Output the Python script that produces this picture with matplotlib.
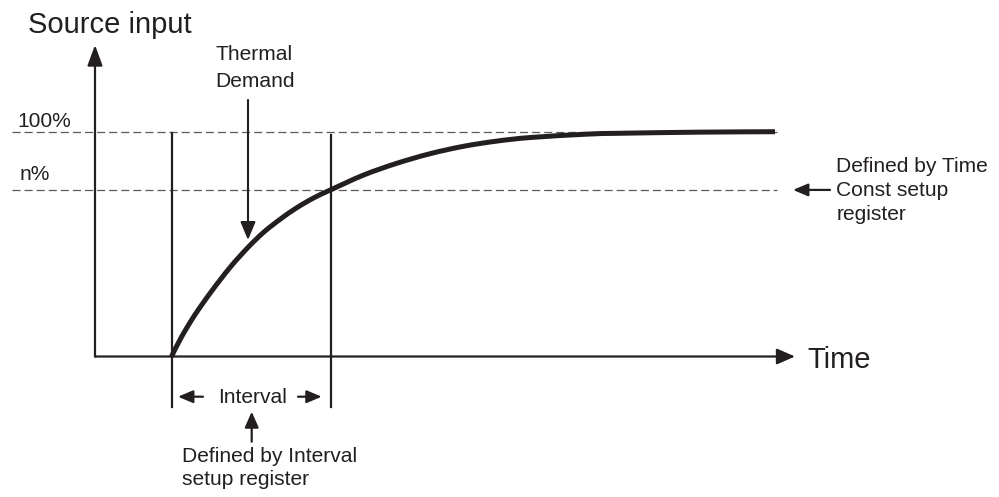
import matplotlib
matplotlib.use("Agg")
import matplotlib.pyplot as plt
from matplotlib.path import Path
from matplotlib.patches import PathPatch

# ---------------- data ----------------
# time since start of the interval (arbitrary units) and source input level (%)
curve_time = [0, 10, 23.5, 40, 58.5, 76, 92, 108.5, 125, 142, 159,
              192, 225, 258.5, 292, 325, 358.5, 415, 448.5, 528.5, 603.5]
curve_level = [0, 8.7, 18.6, 29.0, 39.6, 48.3, 55.2, 61.0, 66.1, 70.5, 74.1,
               80.7, 85.9, 90.2, 93.5, 95.8, 97.4, 98.9, 99.3, 99.8, 100.0]
full_level = 100.0      # "100%"
n_level = 74.1          # "n%"
interval_start = 0.0
interval_end = 159.0
level_labels = ["100%", "n%"]

# ---------------- layout helpers (figure pixels -> data) ----------------
X0 = 171.5      # pixel x of interval start
Y0 = 356.5      # pixel y of 0 level
SC = 2.248      # pixels per level %


def px(x):
    return x - X0


def lv(y):
    return (Y0 - y) / SC


INK = "#231f20"
GRAY = "#5a5a5a"
FONT = "Liberation Sans"

fig = plt.figure(figsize=(9.99, 4.97), dpi=100)
ax = fig.add_axes([0, 0, 1, 1])
ax.set_xlim(-X0, 999 - X0)
ax.set_ylim(lv(497), lv(0))
ax.axis("off")


def arrow(x0, y0, x1, y1, hl, hw, lw=1.6):
    ax.annotate("", xy=(x1, y1), xytext=(x0, y0),
                arrowprops=dict(arrowstyle=f"-|>,head_length={hl},head_width={hw}",
                                mutation_scale=1, color=INK, lw=lw,
                                shrinkA=0, shrinkB=0))


# dashed reference lines
dlw = 0.9
for lvl in (full_level, n_level):
    ax.plot([px(12), px(777)], [lvl, lvl], color=GRAY, lw=dlw,
            linestyle=(0, (5.8 / dlw, 2.9 / dlw)), zorder=1)

# axes
arrow(px(95), 0, px(95), lv(45), 12.5, 4.6)
arrow(px(95), 0, px(795), 0, 11.0, 4.8)

# interval markers
ax.plot([interval_start, interval_start], [lv(133), lv(407)], color=INK, lw=1.6)
ax.plot([interval_end, interval_end], [lv(135), lv(407)], color=INK, lw=1.6)

# response curve: smooth path through the read points (Catmull-Rom -> Bezier)
pts = list(zip(curve_time, curve_level))
verts = [pts[0]]
codes = [Path.MOVETO]
n = len(pts)
for i in range(n - 1):
    p0 = pts[i - 1] if i > 0 else pts[i]
    p1 = pts[i]
    p2 = pts[i + 1]
    p3 = pts[i + 2] if i + 2 < n else pts[i + 1]
    c1 = (p1[0] + (p2[0] - p0[0]) / 6.0, p1[1] + (p2[1] - p0[1]) / 6.0)
    c2 = (p2[0] - (p3[0] - p1[0]) / 6.0, p2[1] - (p3[1] - p1[1]) / 6.0)
    verts += [c1, c2, p2]
    codes += [Path.CURVE4] * 3
ax.add_patch(PathPatch(Path(verts, codes), facecolor="none", edgecolor=INK,
                       lw=3.6, capstyle="butt", zorder=3))

# Thermal demand arrow
arrow(px(248), lv(100), px(248), lv(240), 11.0, 4.6, lw=1.5)
# interval arrows
arrow(px(203), lv(396.7), px(178), lv(396.7), 9.0, 3.8)
arrow(px(298), lv(396.7), px(321.7), lv(396.7), 9.0, 3.8)
arrow(px(251.7), lv(441.7), px(251.7), lv(411.7), 9.5, 4.2)
# time const arrow
arrow(px(830), n_level, px(793), n_level, 9.0, 3.8)

# texts
big = 21.0
small = 15.1


def txt(x, y, s, size, ha="left"):
    ax.text(px(x), lv(y), s, fontsize=size, family=FONT, color=INK,
            ha=ha, va="baseline")


txt(28, 33, "Source input", big)
txt(807, 368, "Time", big)
txt(254, 60, "Thermal", small, ha="center")
txt(255, 86.7, "Demand", small, ha="center")
txt(17, 126.7, level_labels[0], small)
txt(20, 180, level_labels[1], small)
txt(252.5, 403, "Interval", small, ha="center")
txt(182, 462, "Defined by Interval", small)
txt(182, 485, "setup register", small)
txt(836.5, 172, "Defined by Time", small)
txt(836.5, 196, "Const setup", small)
txt(836.5, 220, "register", small)

fig.savefig("out.png", dpi=100)
